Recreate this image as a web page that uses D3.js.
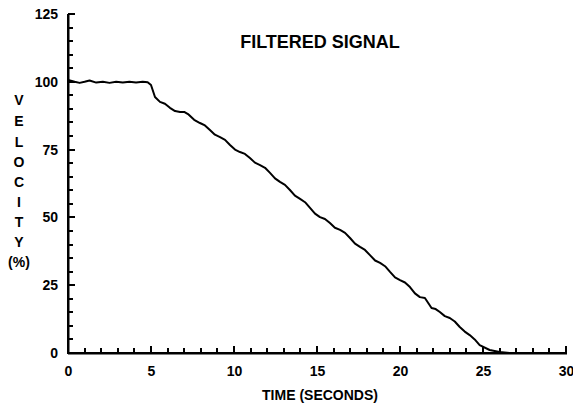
<!DOCTYPE html>
<html>
<head>
<meta charset="utf-8">
<script src="https://cdn.jsdelivr.net/npm/d3@7"></script>
<style>
  body { margin: 0; background: #fff; }
  svg { display: block; }
  text { font-family: "Liberation Sans", Arial, sans-serif; font-weight: bold; fill: #000; }
</style>
</head>
<body>
<svg id="chart" width="573" height="403"></svg>
<script>
const timeSec = [0,0.4,0.7,1.0,1.3,1.7,2.1,2.5,2.9,3.3,
  3.7,4.1,4.5,4.8,5.0,5.24,5.54,5.84,6.14,6.45,
  6.75,7.0,7.23,7.6,7.95,8.25,8.55,8.85,9.16,9.46,
  9.76,10.06,10.36,10.66,10.96,11.26,11.57,11.87,12.17,12.47,
  12.77,13.07,13.37,13.67,13.98,14.28,14.58,14.88,15.18,15.48,
  15.78,16.08,16.39,16.69,16.99,17.29,17.59,17.89,18.19,18.5,
  18.8,19.1,19.4,19.7,20.0,20.3,20.6,20.9,21.2,21.5,
  21.9,22.15,22.4,22.7,23.0,23.3,23.6,23.9,24.2,24.5,
  24.8,25.4,26.0,26.6,27.5];
const velocity = [100.7,100,99.6,100,100.5,99.7,100,99.6,100,99.7,
  100,99.7,100,99.8,98.8,94.4,92.6,91.9,90.4,89.2,
  88.9,88.9,88.1,86.0,84.8,83.9,82.2,80.5,79.6,78.6,
  76.7,75.0,74.1,73.4,71.9,70.2,69.3,68.3,66.4,64.4,
  63.1,62.0,60.1,58.0,56.8,55.6,53.5,51.4,50.1,49.4,
  47.9,46.2,45.4,44.3,42.4,40.3,39.1,38.0,36.1,34.1,
  33.2,32.0,29.9,27.9,26.9,26.0,24.3,22.0,20.6,20.3,
  16.6,16.2,15.1,13.6,12.9,11.6,9.6,7.9,6.6,5.0,
  2.9,1.1,0.4,0,0];
const xTicks = [0,5,10,15,20,25,30];
const yTicks = [0,25,50,75,100,125];
const yMinorTicks = [5,10,15,20,30,35,40,45,55,60,65,70,80,85,90,95,105,110,115,120];
const xMinorTicks = [1,2,3,4,6,7,8,9,11,12,13,14,16,17,18,19,21,22,23,24,26,27,28,29];
const yLabelLetters = ["V","E","L","O","C","I","T","Y","(%)"];
const title = "FILTERED SIGNAL";
const xTitle = "TIME (SECONDS)";

const svg = d3.select("#chart");
const x = d3.scaleLinear().domain([0,30]).range([68,566]);
const y = d3.scaleLinear().domain([0,125]).range([353,14]);
const FONT = "'Liberation Sans', Arial, sans-serif";

function addTickRects(vals, horiz, len) {
  vals.forEach(v => {
    if (horiz) {
      svg.append("rect").attr("x", x(0)).attr("y", Math.round(y(v)) - 1)
        .attr("width", len).attr("height", 2).attr("fill", "#000");
    } else {
      svg.append("rect").attr("x", Math.round(x(v)) - 1).attr("y", y(0) - len)
        .attr("width", 2).attr("height", len).attr("fill", "#000");
    }
  });
}
addTickRects(yMinorTicks, true, 5);
addTickRects(yTicks, true, 7);
addTickRects(xMinorTicks, false, 5);
addTickRects(xTicks, false, 7);

// labels
const yl = svg.append("g").attr("transform","translate(68,0)")
  .call(d3.axisLeft(y).tickValues(yTicks).tickSize(0).tickPadding(10));
yl.select(".domain").remove();
yl.selectAll("text").attr("font-size",14).attr("font-family",FONT).attr("font-weight","bold");
const xl = svg.append("g").attr("transform","translate(0,353)")
  .call(d3.axisBottom(x).tickValues(xTicks).tickSize(0).tickPadding(13));
xl.select(".domain").remove();
xl.selectAll("text").attr("font-size",14).attr("font-family",FONT).attr("font-weight","bold");

// axis lines
svg.append("rect").attr("x",67).attr("y",y(125)).attr("width",2.5).attr("height",y(0)-y(125)+1).attr("fill","#000");
svg.append("rect").attr("x",x(0)).attr("y",y(0)-1).attr("width",x(30)-x(0)+1).attr("height",2.5).attr("fill","#000");

// curve
const pts = timeSec.map((t,i)=>[t,velocity[i]]);
svg.append("path").datum(pts)
  .attr("fill","none").attr("stroke","#000").attr("stroke-width",2).attr("stroke-linejoin","round")
  .attr("d", d3.line().x(d=>x(d[0])).y(d=>y(d[1])));

// titles
svg.append("text").attr("x",320).attr("y",48).attr("text-anchor","middle").attr("font-size",18).text(title);
svg.append("text").attr("x",320).attr("y",400).attr("text-anchor","middle").attr("font-size",14).text(xTitle);
const yPos = [100,121,142,162,182,202,222,242,262];
yLabelLetters.forEach((s,i)=>{
  svg.append("text").attr("x",19).attr("y",yPos[i]+5).attr("text-anchor","middle").attr("font-size",14).text(s);
});
</script>
</body>
</html>
